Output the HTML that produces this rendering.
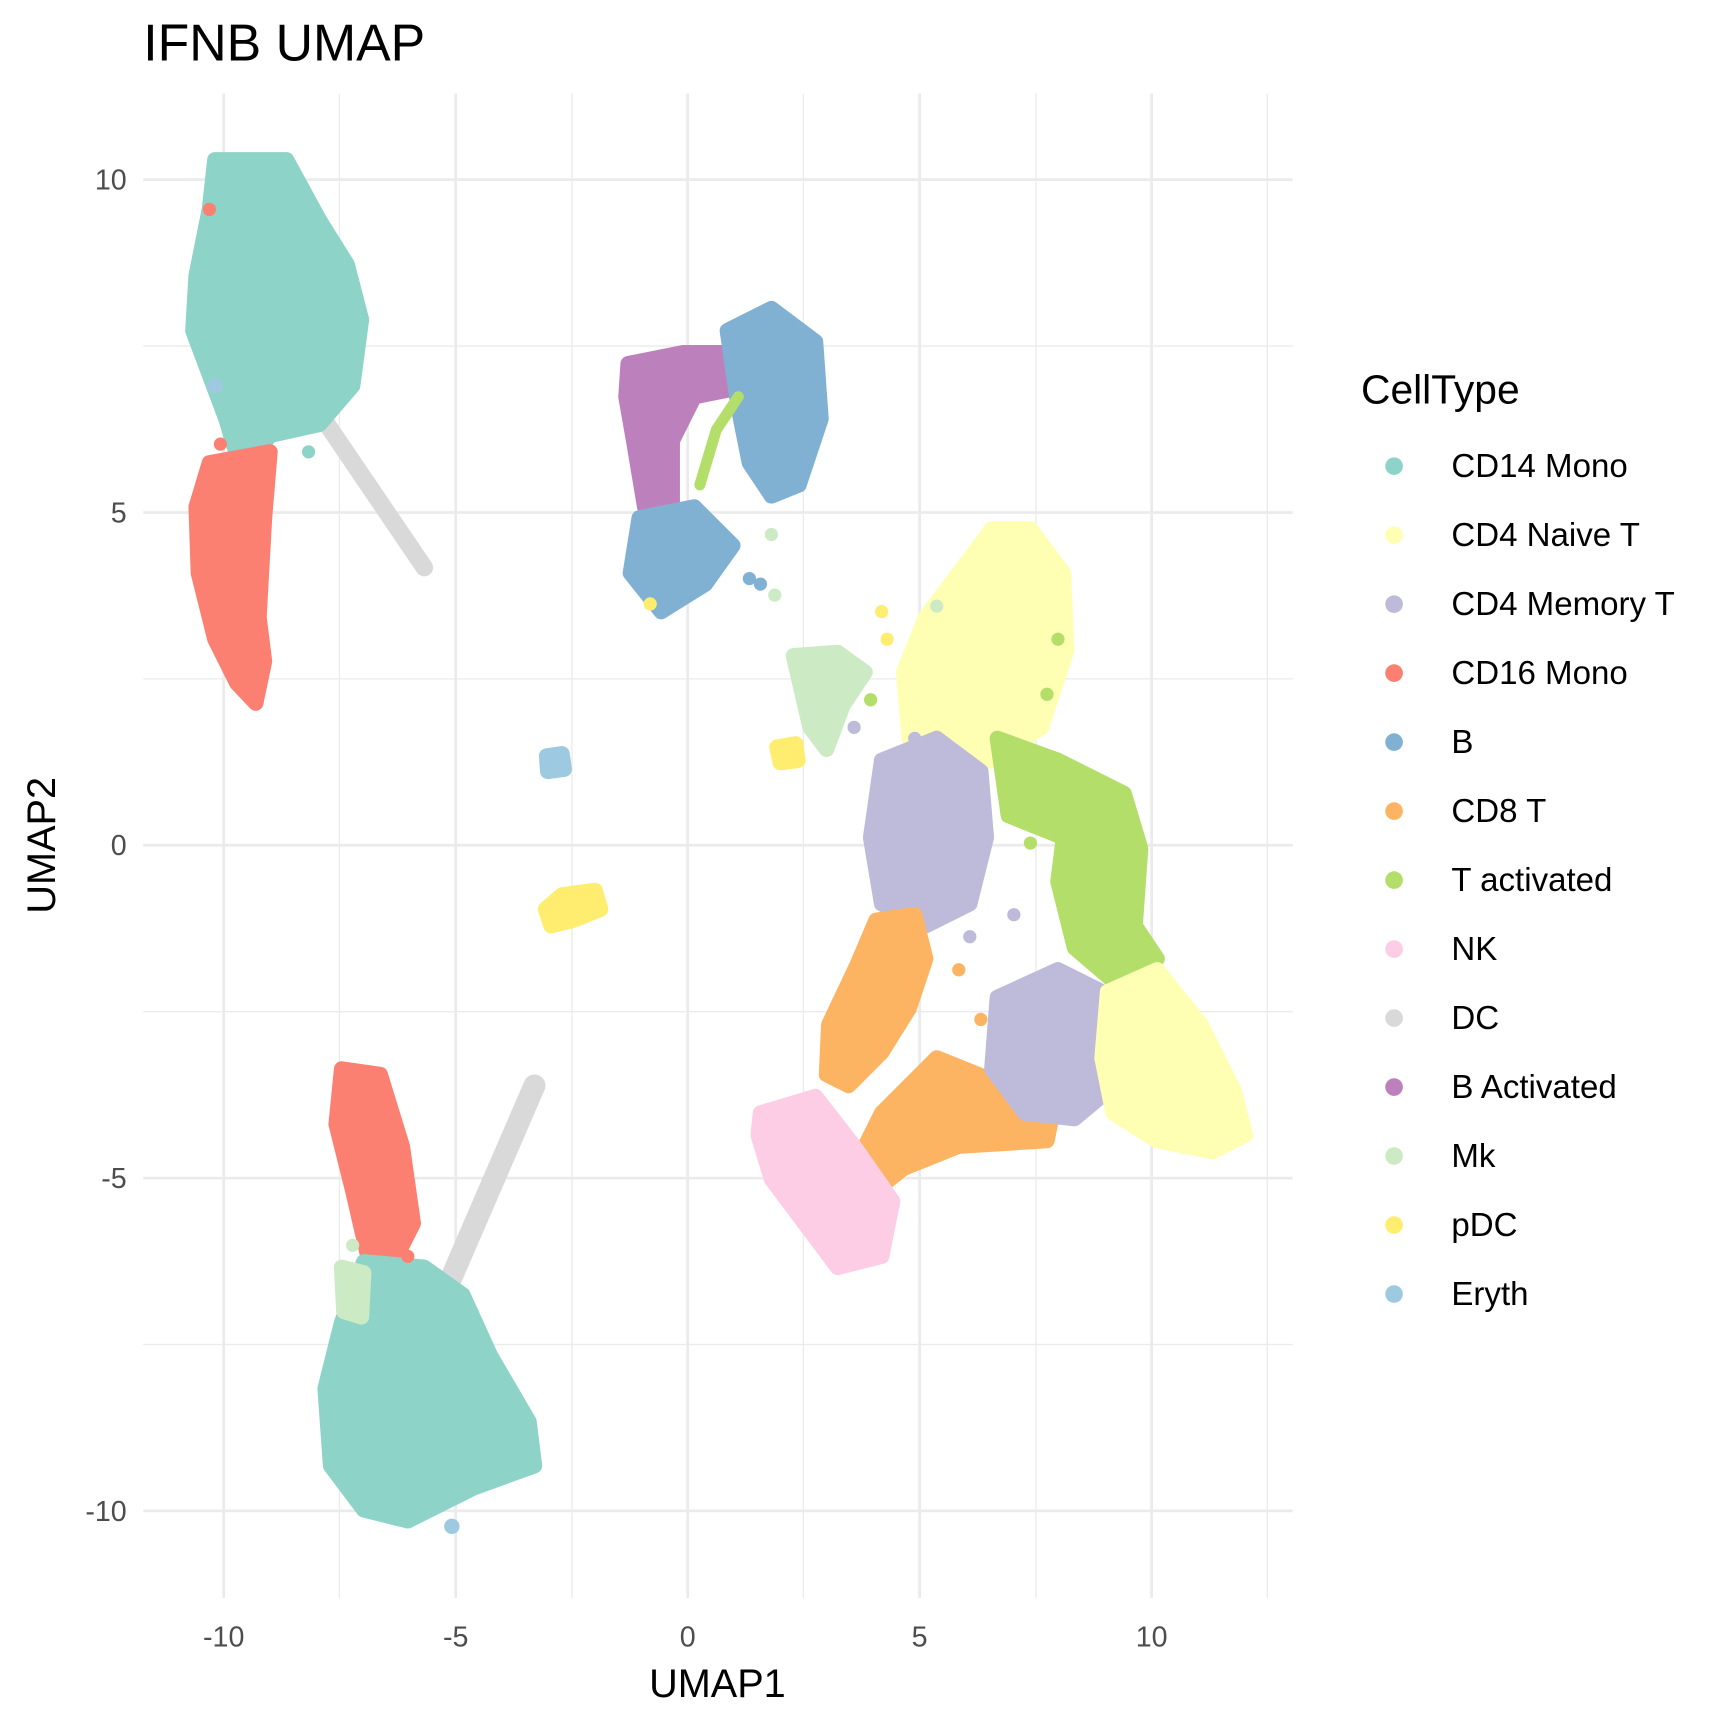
<!DOCTYPE html>
<html><head><meta charset="utf-8"><style>html,body{margin:0;padding:0;background:#fff}svg{display:block}</style></head>
<body>
<svg width="1728" height="1728" viewBox="0 0 1568 1568" xmlns="http://www.w3.org/2000/svg" font-family="Liberation Sans, sans-serif">
<rect width="1568" height="1568" fill="#fff"/>
<g stroke="#EBEBEB" stroke-width="1.2">
<line x1="308" y1="85" x2="308" y2="1450"/><line x1="519" y1="85" x2="519" y2="1450"/><line x1="729" y1="85" x2="729" y2="1450"/><line x1="940" y1="85" x2="940" y2="1450"/><line x1="1150" y1="85" x2="1150" y2="1450"/>
<line x1="130" y1="314" x2="1173" y2="314"/><line x1="130" y1="616" x2="1173" y2="616"/><line x1="130" y1="918" x2="1173" y2="918"/><line x1="130" y1="1220" x2="1173" y2="1220"/>
</g>
<g stroke="#EBEBEB" stroke-width="2.5">
<line x1="203" y1="85" x2="203" y2="1450"/><line x1="413.5" y1="85" x2="413.5" y2="1450"/><line x1="624" y1="85" x2="624" y2="1450"/><line x1="834.5" y1="85" x2="834.5" y2="1450"/><line x1="1045" y1="85" x2="1045" y2="1450"/>
<line x1="130" y1="163" x2="1173" y2="163"/><line x1="130" y1="465" x2="1173" y2="465"/><line x1="130" y1="767" x2="1173" y2="767"/><line x1="130" y1="1069" x2="1173" y2="1069"/><line x1="130" y1="1371" x2="1173" y2="1371"/>
</g>
<g stroke-linejoin="round" stroke-linecap="round" stroke-width="14">
<polyline points="290,375 385,515" fill="none" stroke="#D9D9D9" stroke-width="16"/>
<polyline points="405,1170 485,985" fill="none" stroke="#D9D9D9" stroke-width="20"/>
<polygon points="195,145 260,145 290,200 315,240 328,290 320,350 290,385 245,395 220,430 205,380 190,340 175,300 178,250 190,190" fill="#8DD3C7" stroke="#8DD3C7"/>
<polygon points="190,420 245,410 240,470 235,560 240,600 232,638 215,620 195,580 180,520 178,460" fill="#FB8072" stroke="#FB8072"/>
<polygon points="570,330 620,320 680,320 680,350 630,360 610,400 610,460 585,460 575,400 568,360" fill="#BC80BD" stroke="#BC80BD"/>
<polygon points="660,300 700,280 740,310 745,380 725,440 700,450 680,420 670,370" fill="#80B1D3" stroke="#80B1D3"/>
<polygon points="580,470 630,460 665,495 640,530 600,555 572,520" fill="#80B1D3" stroke="#80B1D3"/>
<polyline points="635,440 650,390 670,360" fill="none" stroke="#B3DE69" stroke-width="10"/>
<polygon points="720,595 760,592 785,610 765,640 750,680 735,660" fill="#CCEBC5" stroke="#CCEBC5"/>
<polygon points="840,560 900,480 935,480 965,520 968,590 945,660 900,690 860,700 825,670 820,610" fill="#FFFFB3" stroke="#FFFFB3"/>
<polygon points="800,690 850,670 890,700 895,760 880,820 840,840 800,820 790,760" fill="#BEBADA" stroke="#BEBADA"/>
<polygon points="905,670 960,690 1020,720 1035,770 1030,840 1050,870 1010,890 975,860 960,800 965,760 915,740" fill="#B3DE69" stroke="#B3DE69"/>
<polygon points="795,835 830,830 840,870 825,915 800,955 770,985 750,975 752,930 778,875" fill="#FDB462" stroke="#FDB462"/>
<polygon points="800,1010 850,960 900,980 955,1010 950,1035 870,1040 820,1060 795,1080 780,1050" fill="#FDB462" stroke="#FDB462"/>
<polygon points="905,905 960,880 1000,900 1005,990 975,1015 930,1010 900,970" fill="#BEBADA" stroke="#BEBADA"/>
<polygon points="1005,900 1050,880 1090,930 1120,990 1130,1030 1100,1045 1050,1035 1010,1010 1000,960" fill="#FFFFB3" stroke="#FFFFB3"/>
<polygon points="690,1010 740,995 775,1040 810,1090 800,1140 760,1150 730,1110 700,1070 688,1030" fill="#FCCDE5" stroke="#FCCDE5"/>
<polygon points="310,970 345,975 365,1040 375,1110 360,1140 335,1145 320,1080 305,1020" fill="#FB8072" stroke="#FB8072"/>
<polygon points="330,1145 385,1150 420,1175 445,1230 480,1290 485,1330 430,1350 370,1380 330,1370 300,1330 295,1260 310,1200" fill="#8DD3C7" stroke="#8DD3C7"/>
<polygon points="495,825 510,812 540,808 545,825 520,835 500,840" fill="#FFED6F" stroke="#FFED6F"/>
<polygon points="496,686 510,684 512,698 497,700" fill="#9ECAE1" stroke="#9ECAE1"/>
<polygon points="705,678 722,675 724,690 708,692" fill="#FFED6F" stroke="#FFED6F"/>
<polygon points="310,1150 330,1155 328,1195 312,1190" fill="#CCEBC5" stroke="#CCEBC5"/>
</g>
<g>
<circle cx="410" cy="1385" r="7" fill="#9ECAE1"/><circle cx="195" cy="350" r="7" fill="#9ECAE1"/>
<circle cx="700" cy="485" r="6" fill="#CCEBC5"/><circle cx="703" cy="540" r="6" fill="#CCEBC5"/><circle cx="690" cy="530" r="6" fill="#80B1D3"/><circle cx="680" cy="525" r="6" fill="#80B1D3"/>
<circle cx="800" cy="555" r="6" fill="#FFED6F"/><circle cx="805" cy="580" r="6" fill="#FFED6F"/><circle cx="850" cy="550" r="6" fill="#CCEBC5"/>
<circle cx="775" cy="660" r="6" fill="#BEBADA"/><circle cx="790" cy="635" r="6" fill="#B3DE69"/><circle cx="830" cy="670" r="6" fill="#BEBADA"/>
<circle cx="920" cy="830" r="6" fill="#BEBADA"/><circle cx="880" cy="850" r="6" fill="#BEBADA"/><circle cx="870" cy="880" r="6" fill="#FDB462"/><circle cx="890" cy="925" r="6" fill="#FDB462"/>
<circle cx="935" cy="765" r="6" fill="#B3DE69"/><circle cx="960" cy="580" r="6" fill="#B3DE69"/><circle cx="950" cy="630" r="6" fill="#B3DE69"/>
<circle cx="370" cy="1140" r="6" fill="#FB8072"/><circle cx="320" cy="1130" r="6" fill="#CCEBC5"/><circle cx="280" cy="410" r="6" fill="#8DD3C7"/><circle cx="200" cy="403" r="6" fill="#FB8072"/><circle cx="190" cy="190" r="6" fill="#FB8072"/>
<circle cx="180" cy="310" r="6" fill="#8DD3C7"/><circle cx="590" cy="548" r="6" fill="#FFED6F"/>
</g>
<text x="130" y="55" font-size="47" fill="#000">IFNB UMAP</text>
<g font-size="26" fill="#4D4D4D" text-anchor="middle">
<text x="203" y="1494">-10</text><text x="413.5" y="1494">-5</text><text x="624" y="1494">0</text><text x="834.5" y="1494">5</text><text x="1045" y="1494">10</text>
</g>
<g font-size="26" fill="#4D4D4D" text-anchor="end">
<text x="115" y="172">10</text><text x="115" y="474">5</text><text x="115" y="776">0</text><text x="115" y="1078">-5</text><text x="115" y="1380">-10</text>
</g>
<text x="651" y="1540" font-size="36" text-anchor="middle">UMAP1</text>
<text transform="translate(50,767) rotate(-90)" font-size="36" text-anchor="middle">UMAP2</text>
<text x="1235" y="366" font-size="37">CellType</text>
<g font-size="30">
<circle cx="1265" cy="423" r="8" fill="#8DD3C7"/><text x="1317" y="433">CD14 Mono</text>
<circle cx="1265" cy="485.6" r="8" fill="#FFFFB3"/><text x="1317" y="495.6">CD4 Naive T</text>
<circle cx="1265" cy="548.2" r="8" fill="#BEBADA"/><text x="1317" y="558.2">CD4 Memory T</text>
<circle cx="1265" cy="610.8" r="8" fill="#FB8072"/><text x="1317" y="620.8">CD16 Mono</text>
<circle cx="1265" cy="673.4" r="8" fill="#80B1D3"/><text x="1317" y="683.4">B</text>
<circle cx="1265" cy="736" r="8" fill="#FDB462"/><text x="1317" y="746">CD8 T</text>
<circle cx="1265" cy="798.6" r="8" fill="#B3DE69"/><text x="1317" y="808.6">T activated</text>
<circle cx="1265" cy="861.2" r="8" fill="#FCCDE5"/><text x="1317" y="871.2">NK</text>
<circle cx="1265" cy="923.8" r="8" fill="#D9D9D9"/><text x="1317" y="933.8">DC</text>
<circle cx="1265" cy="986.4" r="8" fill="#BC80BD"/><text x="1317" y="996.4">B Activated</text>
<circle cx="1265" cy="1049" r="8" fill="#CCEBC5"/><text x="1317" y="1059">Mk</text>
<circle cx="1265" cy="1111.6" r="8" fill="#FFED6F"/><text x="1317" y="1121.6">pDC</text>
<circle cx="1265" cy="1174.2" r="8" fill="#9ECAE1"/><text x="1317" y="1184.2">Eryth</text>
</g>
</svg>
</body></html>
